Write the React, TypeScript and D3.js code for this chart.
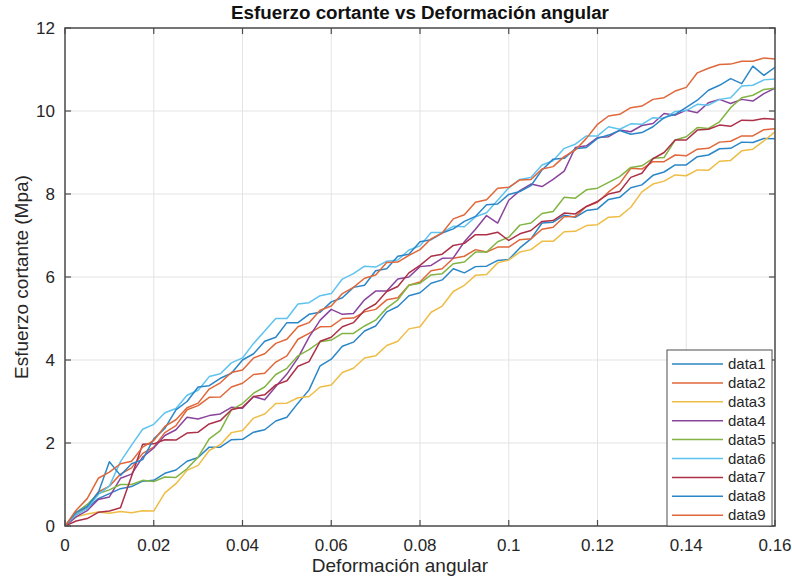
import React from 'react';
import * as d3 from 'd3';

const STRAIN = [
  0, 0.0025, 0.005, 0.0075, 0.01, 0.0125, 0.015, 0.0175, 0.02, 0.0225,
  0.025, 0.0275, 0.03, 0.0325, 0.035, 0.0375, 0.04, 0.0425, 0.045, 0.0475,
  0.05, 0.0525, 0.055, 0.0575, 0.06, 0.0625, 0.065, 0.0675, 0.07, 0.0725,
  0.075, 0.0775, 0.08, 0.0825, 0.085, 0.0875, 0.09, 0.0925, 0.095, 0.0975,
  0.1, 0.1025, 0.105, 0.1075, 0.11, 0.1125, 0.115, 0.1175, 0.12, 0.1225,
  0.125, 0.1275, 0.13, 0.1325, 0.135, 0.1375, 0.14, 0.1425, 0.145, 0.1475,
  0.15, 0.1525, 0.155, 0.1575, 0.16,
];

const DATA1 = [
  0, 0.27, 0.43, 0.66, 0.78, 0.9, 0.95, 1.08, 1.1, 1.27,
  1.35, 1.56, 1.65, 1.9, 1.9, 2.08, 2.09, 2.26, 2.32, 2.53,
  2.62, 2.96, 3.28, 3.86, 4.02, 4.33, 4.43, 4.7, 4.82, 5.16,
  5.29, 5.55, 5.62, 5.85, 5.93, 6.2, 6.1, 6.25, 6.26, 6.4,
  6.42, 6.7, 6.92, 7.3, 7.32, 7.49, 7.44, 7.6, 7.64, 7.87,
  7.92, 8.15, 8.22, 8.45, 8.53, 8.7, 8.7, 8.9, 8.94, 9.09,
  9.1, 9.25, 9.24, 9.34, 9.33,
];
const DATA2 = [
  0, 0.28, 0.47, 0.82, 0.96, 1.25, 1.4, 1.75, 1.9, 2.25,
  2.42, 2.8, 2.9, 3.1, 3.11, 3.35, 3.44, 3.65, 3.68, 3.95,
  4.1, 4.5, 4.64, 4.8, 4.81, 5.0, 5.01, 5.16, 5.22, 5.45,
  5.5, 5.8, 5.88, 6.15, 6.2, 6.45, 6.5, 6.66, 6.6, 6.72,
  6.72, 6.9, 6.92, 7.15, 7.2, 7.45, 7.46, 7.7, 7.8, 8.05,
  8.25, 8.62, 8.6, 8.78, 8.78, 8.94, 8.92, 9.08, 9.1, 9.25,
  9.27, 9.4, 9.4, 9.55, 9.57,
];
const DATA3 = [
  0, 0.22, 0.29, 0.34, 0.31, 0.35, 0.32, 0.37, 0.36, 0.8,
  1.02, 1.34, 1.46, 1.82, 1.96, 2.25, 2.3, 2.6, 2.7, 2.95,
  2.96, 3.09, 3.12, 3.35, 3.4, 3.7, 3.8, 4.05, 4.1, 4.35,
  4.45, 4.75, 4.8, 5.15, 5.3, 5.65, 5.8, 6.04, 6.06, 6.34,
  6.41, 6.6, 6.66, 6.86, 6.86, 7.09, 7.1, 7.24, 7.26, 7.44,
  7.46, 7.68, 8.05, 8.24, 8.31, 8.46, 8.44, 8.58, 8.57, 8.79,
  8.81, 9.04, 9.08, 9.28, 9.5,
];
const DATA4 = [
  0, 0.22, 0.37, 0.64, 0.7, 1.15, 1.25, 1.66, 1.88, 2.18,
  2.32, 2.62, 2.58, 2.66, 2.7, 2.86, 2.84, 3.12, 3.04, 3.36,
  3.66, 4.05, 4.55, 4.96, 5.22, 5.1, 5.12, 5.45, 5.66, 5.66,
  5.95, 6.0, 6.25, 6.28, 6.45, 6.46, 6.85, 7.15, 7.48, 7.3,
  7.85, 8.08, 8.24, 8.18, 8.35, 8.55, 9.12, 9.16, 9.36, 9.38,
  9.54, 9.5, 9.65, 9.7, 9.94, 9.9, 10.02, 9.96, 10.2, 10.28,
  10.18, 10.28, 10.24, 10.42, 10.55,
];
const DATA5 = [
  0, 0.32, 0.52, 0.78, 0.87, 1.0, 1.0, 1.1, 1.07, 1.18,
  1.17, 1.38, 1.66, 2.1, 2.3, 2.8, 2.95, 3.2, 3.35, 3.65,
  3.8, 4.1, 4.25, 4.44, 4.48, 4.64, 4.64, 4.82, 4.96, 5.25,
  5.45, 5.8, 5.85, 6.05, 6.08, 6.32, 6.36, 6.6, 6.6, 6.85,
  6.96, 7.25, 7.3, 7.53, 7.58, 7.92, 7.9, 8.1, 8.14, 8.28,
  8.42, 8.64, 8.68, 8.86, 8.88, 9.3, 9.38, 9.6, 9.58, 9.74,
  10.08, 10.32, 10.38, 10.52, 10.55,
];
const DATA6 = [
  0, 0.28, 0.42, 0.76, 0.96, 1.55, 1.95, 2.33, 2.45, 2.73,
  2.83, 3.15, 3.27, 3.6, 3.67, 3.93, 4.05, 4.4, 4.7, 5.0,
  5.0, 5.35, 5.38, 5.55, 5.6, 5.95, 6.08, 6.26, 6.24, 6.38,
  6.41, 6.65, 6.75, 7.07, 7.07, 7.22, 7.21, 7.45, 7.55, 7.85,
  8.15, 8.35, 8.4, 8.7, 8.8, 9.1, 9.2, 9.4, 9.4, 9.62,
  9.56, 9.69, 9.68, 9.84, 9.82, 9.99, 10.01, 10.16, 10.14, 10.28,
  10.32, 10.6, 10.62, 10.75, 10.77,
];
const DATA7 = [
  0, 0.12, 0.18, 0.33, 0.36, 0.44, 1.2, 1.97, 1.98, 2.08,
  2.07, 2.24, 2.26, 2.46, 2.54, 2.8, 2.86, 3.12, 3.16, 3.4,
  3.5, 3.85, 3.96, 4.45, 4.55, 4.8, 4.9, 5.2, 5.35, 5.65,
  5.77, 6.1, 6.28, 6.5, 6.55, 6.76, 6.81, 7.02, 7.02, 7.08,
  6.88, 7.04, 7.12, 7.34, 7.36, 7.54, 7.52, 7.7, 7.82, 8.0,
  8.06, 8.4, 8.5, 8.85, 9.0, 9.3, 9.3, 9.54, 9.56, 9.66,
  9.63, 9.78, 9.77, 9.82, 9.8,
];
const DATA8 = [
  0, 0.33, 0.47, 0.8, 1.55, 1.22, 1.5, 1.6, 2.1, 2.35,
  2.8, 3.0, 3.35, 3.38, 3.56, 3.68, 4.0, 4.15, 4.45, 4.55,
  4.9, 4.9, 5.1, 5.15, 5.4, 5.5, 5.75, 5.8, 6.15, 6.2,
  6.5, 6.55, 6.85, 6.9, 7.06, 7.16, 7.34, 7.46, 7.74, 7.76,
  7.99, 8.06, 8.2, 8.58, 8.84, 8.86, 9.09, 9.12, 9.34, 9.42,
  9.53, 9.44, 9.48, 9.62, 9.84, 9.92, 10.09, 10.26, 10.5, 10.62,
  10.78, 10.66, 11.08, 10.86, 11.05,
];
const DATA9 = [
  0, 0.38, 0.66, 1.15, 1.3, 1.5, 1.56, 1.9, 2.06, 2.4,
  2.56, 2.85, 2.96, 3.3, 3.45, 3.7, 3.76, 4.05, 4.15, 4.4,
  4.5, 4.8, 4.9, 5.2, 5.3, 5.6, 5.75, 5.97, 6.05, 6.35,
  6.36, 6.52, 6.66, 6.92, 7.06, 7.4, 7.5, 7.8, 7.86, 8.14,
  8.16, 8.34, 8.35, 8.6, 8.66, 8.9, 9.06, 9.34, 9.68, 9.88,
  9.92, 10.08, 10.12, 10.28, 10.32, 10.48, 10.57, 10.92, 11.03, 11.12,
  11.13, 11.2, 11.2, 11.28, 11.25,
];

const SERIES_NAMES = ['data1', 'data2', 'data3', 'data4', 'data5', 'data6', 'data7', 'data8', 'data9'];
const SERIES_VALUES = [DATA1, DATA2, DATA3, DATA4, DATA5, DATA6, DATA7, DATA8, DATA9];
const COLORS = ['#2b86c8', '#e0673a', '#eebd45', '#8a449c', '#82b443', '#5ec3ee', '#ac3047', '#2b86c8', '#e0673a'];

const X_TICKS = [0, 0.02, 0.04, 0.06, 0.08, 0.1, 0.12, 0.14, 0.16];
const X_TICK_LABELS = ['0', '0.02', '0.04', '0.06', '0.08', '0.1', '0.12', '0.14', '0.16'];
const Y_TICKS = [0, 2, 4, 6, 8, 10, 12];
const Y_TICK_LABELS = ['0', '2', '4', '6', '8', '10', '12'];

const TITLE = 'Esfuerzo cortante vs Deformación angular';
const X_LABEL = 'Deformación angular';
const Y_LABEL = 'Esfuerzo cortante (Mpa)';

export default function App() {
  const W = 792;
  const H = 578;
  const L = 65, R = 775, T = 28, B = 526;
  const x = d3.scaleLinear().domain([0, 0.16]).range([L, R]);
  const y = d3.scaleLinear().domain([0, 12]).range([B, T]);
  const font = '"Liberation Sans", Arial, Helvetica, sans-serif';
  const axisColor = '#4d4d4d';
  const gridColor = '#e3e3e3';
  const tick = 6;

  const makeLine = (vals: number[]) =>
    d3.line<number>()
      .x((_, i) => x(STRAIN[i]))
      .y((d) => y(d))(vals) || '';

  const lgL = 667, lgR = 772, lgT = 350, lgB = 526;
  const lgRow0 = 364, lgStep = 18.9;

  return (
    <svg width={W} height={H} style={{ position: 'absolute', left: 0, top: 0, background: '#fff' }} fontFamily={font}>
      <rect x={0} y={0} width={W} height={H} fill="#fff" />
      <defs>
        <clipPath id="plotclip">
          <rect x={L} y={T} width={R - L} height={B - T} />
        </clipPath>
      </defs>
      {X_TICKS.map((t, i) => (
        <line key={'gx' + i} x1={x(t)} x2={x(t)} y1={T} y2={B} stroke={gridColor} strokeWidth={1} />
      ))}
      {Y_TICKS.map((t, i) => (
        <line key={'gy' + i} x1={L} x2={R} y1={y(t)} y2={y(t)} stroke={gridColor} strokeWidth={1} />
      ))}
      <g clipPath="url(#plotclip)">
        {SERIES_VALUES.map((vals, i) => (
          <path key={'s' + i} d={makeLine(vals)} fill="none" stroke={COLORS[i]} strokeWidth={1.5} strokeLinejoin="round" />
        ))}
      </g>
      <rect x={L} y={T} width={R - L} height={B - T} fill="none" stroke={axisColor} strokeWidth={1.5} />
      {X_TICKS.map((t, i) => (
        <g key={'tx' + i}>
          <line x1={x(t)} x2={x(t)} y1={B} y2={B - tick} stroke={axisColor} strokeWidth={1.2} />
          <line x1={x(t)} x2={x(t)} y1={T} y2={T + tick} stroke={axisColor} strokeWidth={1.2} />
          <text x={x(t)} y={551} textAnchor="middle" fontSize={17} fill="#262626">{X_TICK_LABELS[i]}</text>
        </g>
      ))}
      {Y_TICKS.map((t, i) => (
        <g key={'ty' + i}>
          <line x1={L} x2={L + tick} y1={y(t)} y2={y(t)} stroke={axisColor} strokeWidth={1.2} />
          <line x1={R} x2={R - tick} y1={y(t)} y2={y(t)} stroke={axisColor} strokeWidth={1.2} />
          <text x={55} y={y(t) + 6} textAnchor="end" fontSize={17} fill="#262626">{Y_TICK_LABELS[i]}</text>
        </g>
      ))}
      <text x={(L + R) / 2} y={19} textAnchor="middle" fontSize={18.8} fontWeight="bold" fill="#111">{TITLE}</text>
      <text x={400} y={572} textAnchor="middle" fontSize={19} fill="#262626">{X_LABEL}</text>
      <text transform={`translate(28, 277) rotate(-90)`} textAnchor="middle" fontSize={19} fill="#262626">{Y_LABEL}</text>
      <rect x={lgL} y={lgT} width={lgR - lgL} height={lgB - lgT} fill="#fff" stroke={axisColor} strokeWidth={1} />
      {SERIES_NAMES.map((n, i) => (
        <g key={'lg' + i}>
          <line x1={672} x2={723} y1={lgRow0 + i * lgStep} y2={lgRow0 + i * lgStep} stroke={COLORS[i]} strokeWidth={1.5} />
          <text x={728} y={lgRow0 + i * lgStep + 5} fontSize={15} fill="#262626">{n}</text>
        </g>
      ))}
    </svg>
  );
}
